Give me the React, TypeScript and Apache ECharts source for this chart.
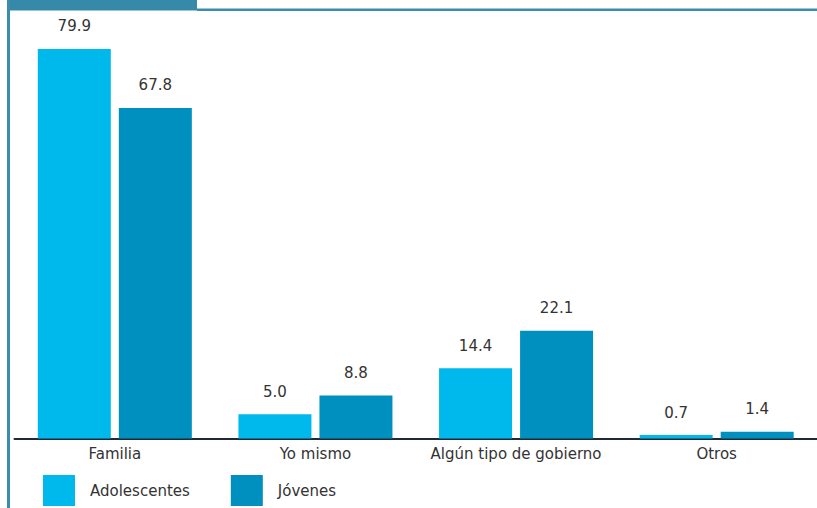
import React, { useEffect, useRef } from "react";
import * as echarts from "echarts";

const categories = ["Familia", "Yo mismo", "Algún tipo de gobierno", "Otros"];
const adolescentes = [79.9, 5.0, 14.4, 0.7];
const jovenes = [67.8, 8.8, 22.1, 1.4];
const seriesNames = ["Adolescentes", "Jóvenes"];

const FONT = "'DejaVu Sans', sans-serif";

export default function App() {
  const ref = useRef<HTMLDivElement>(null);
  useEffect(() => {
    if (!ref.current) return;
    const chart = echarts.init(ref.current, null, { renderer: "svg" });
    const label = {
      show: true,
      position: "top" as const,
      distance: 15,
      color: "#333333",
      fontSize: 15,
      fontFamily: FONT,
      formatter: (p: any) => Number(p.value).toFixed(1),
    };
    chart.setOption({
      animation: false,
      backgroundColor: "#ffffff",
      grid: { left: 14.5, right: -1.5, top: 48.5, bottom: 69.5, containLabel: false },
      xAxis: {
        type: "category",
        data: categories,
        axisLine: { show: true, lineStyle: { color: "#1f2a38", width: 2 } },
        axisTick: { show: false },
        axisLabel: { color: "#333333", fontSize: 15, fontFamily: FONT, margin: 8, interval: 0 },
      },
      yAxis: {
        type: "value",
        min: 0,
        max: 80,
        show: false,
        splitLine: { show: false },
      },
      legend: {
        left: 43,
        top: 475,
        padding: 0,
        itemWidth: 32,
        itemHeight: 31,
        itemGap: 41,
        icon: "rect",
        textStyle: { color: "#333333", fontSize: 15, fontFamily: FONT, padding: [0, 0, 0, 10] },
        data: seriesNames,
      },
      series: [
        {
          name: seriesNames[0],
          type: "bar",
          data: adolescentes,
          barWidth: 73,
          barGap: "11%",
          itemStyle: { color: "#00b9ec" },
          label,
        },
        {
          name: seriesNames[1],
          type: "bar",
          data: jovenes,
          barWidth: 73,
          barGap: "11%",
          itemStyle: { color: "#0090c0" },
          label,
        },
      ],
      graphic: [
        { type: "rect", shape: { x: 7, y: 0, width: 190, height: 10.5 }, style: { fill: "#3689a8" } },
        { type: "rect", shape: { x: 197, y: 8.5, width: 620, height: 2.5 }, style: { fill: "#3a8dab" } },
        { type: "rect", shape: { x: 7, y: 0, width: 3, height: 508 }, style: { fill: "#3a8dab" } },
      ],
    });
    return () => chart.dispose();
  }, []);
  return (
    <div
      ref={ref}
      style={{ position: "fixed", left: 0, top: 0, width: 817, height: 508 }}
    />
  );
}
